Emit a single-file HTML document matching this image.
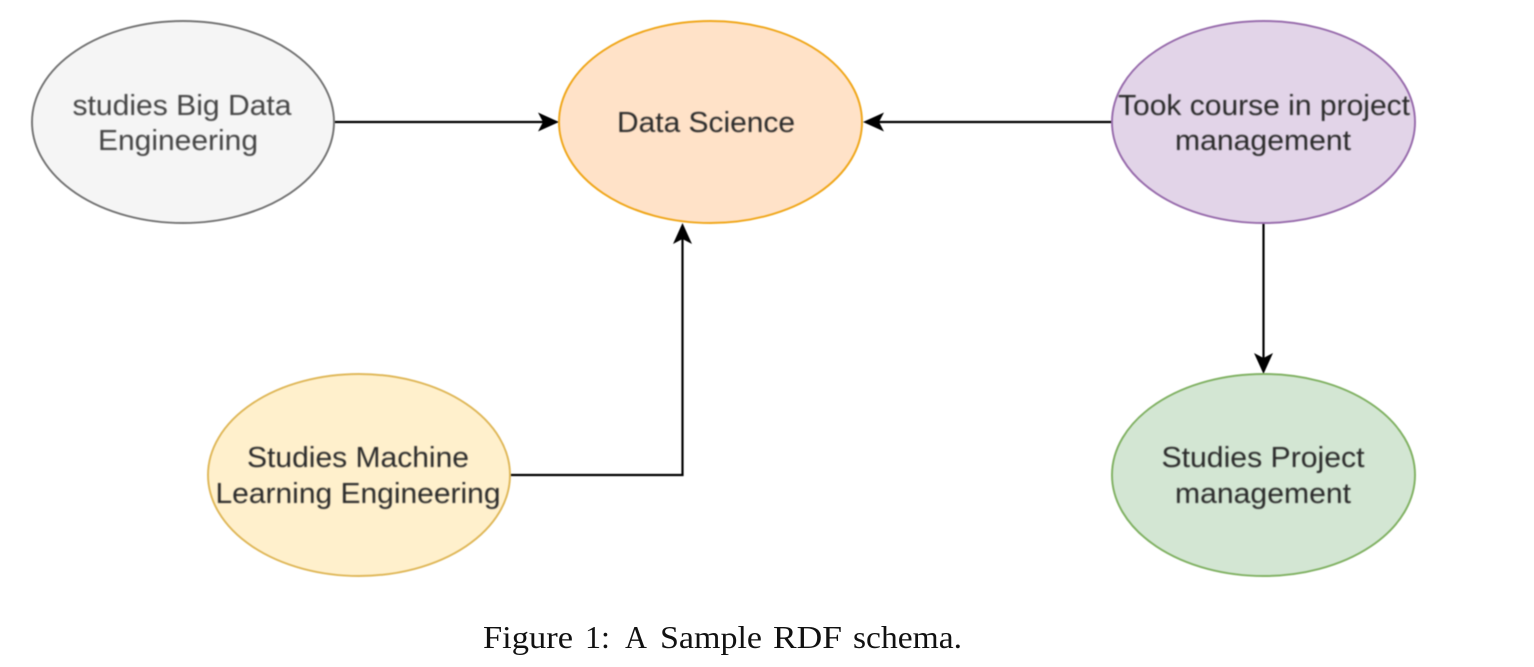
<!DOCTYPE html>
<html>
<head>
<meta charset="utf-8">
<style>
html,body{margin:0;padding:0;background:#fff;width:1534px;height:667px;overflow:hidden}
svg{display:block}
.shapes{filter:blur(0.5px)}
.labels{filter:blur(0.7px)}
.capblur{filter:blur(0.35px)}
text{font-family:"Liberation Sans",Arial,sans-serif;font-size:29px;text-anchor:middle}
.cap text{font-family:"Liberation Serif","Times New Roman",serif;font-size:31.5px;text-anchor:start}
</style>
</head>
<body>
<svg width="1534" height="667" viewBox="0 0 1534 667" xmlns="http://www.w3.org/2000/svg">
<rect width="1534" height="667" fill="#fff"/>
<g class="shapes">
<g fill="none" stroke="#000" stroke-width="2.2">
<path d="M335 122H544"/>
<path d="M1112 122H878"/>
<path d="M511 475H682.500V238"/>
<path d="M1263.500 223V358"/>
</g>
<g fill="#000">
<path d="M559 122L538 112.500L543 122L538 131.500Z"/>
<path d="M863 122L884 112.500L879 122L884 131.500Z"/>
<path d="M682.500 223L673 244L682.500 239L692 244Z"/>
<path d="M1263.500 374L1254 353L1263.500 358L1273 353Z"/>
</g>
<ellipse cx="183" cy="122" rx="151" ry="101" fill="#f5f5f5" stroke="#777" stroke-width="2"/>
<ellipse cx="710.500" cy="122" rx="151.500" ry="101" fill="#ffe2c8" stroke="#f0a81e" stroke-width="2"/>
<ellipse cx="1263.500" cy="122" rx="151.500" ry="101" fill="#e2d4e8" stroke="#9a6fae" stroke-width="2"/>
<ellipse cx="359" cy="475" rx="151" ry="101" fill="#fff0cc" stroke="#e0b95c" stroke-width="2"/>
<ellipse cx="1263.500" cy="475" rx="151.500" ry="101" fill="#d3e6d3" stroke="#83b366" stroke-width="2"/>
</g>
<g class="labels">
<g fill="#444">
<text x="182" y="115" textLength="219" lengthAdjust="spacingAndGlyphs">studies Big Data</text>
<text x="178" y="150" textLength="160" lengthAdjust="spacingAndGlyphs">Engineering</text>
</g>
<g fill="#2a2a2a">
<text x="706" y="132" textLength="178" lengthAdjust="spacingAndGlyphs">Data Science</text>
<text x="1264" y="115" textLength="292" lengthAdjust="spacingAndGlyphs">Took course in project</text>
<text x="1263" y="150" textLength="176" lengthAdjust="spacingAndGlyphs">management</text>
<text x="358" y="467" textLength="222" lengthAdjust="spacingAndGlyphs">Studies Machine</text>
<text x="358" y="503" textLength="285" lengthAdjust="spacingAndGlyphs">Learning Engineering</text>
<text x="1263" y="467" textLength="203" lengthAdjust="spacingAndGlyphs">Studies Project</text>
<text x="1263" y="503" textLength="176" lengthAdjust="spacingAndGlyphs">management</text>
</g>
</g>
<g class="cap capblur" fill="#111">
<text x="483" y="648" textLength="90" lengthAdjust="spacingAndGlyphs">Figure</text>
<text x="585" y="648" textLength="25" lengthAdjust="spacingAndGlyphs">1:</text>
<text x="625" y="648" textLength="22" lengthAdjust="spacingAndGlyphs">A</text>
<text x="660" y="648" textLength="102" lengthAdjust="spacingAndGlyphs">Sample</text>
<text x="773" y="648" textLength="69" lengthAdjust="spacingAndGlyphs">RDF</text>
<text x="853" y="648" textLength="109" lengthAdjust="spacingAndGlyphs">schema.</text>
</g>
</svg>
</body>
</html>
